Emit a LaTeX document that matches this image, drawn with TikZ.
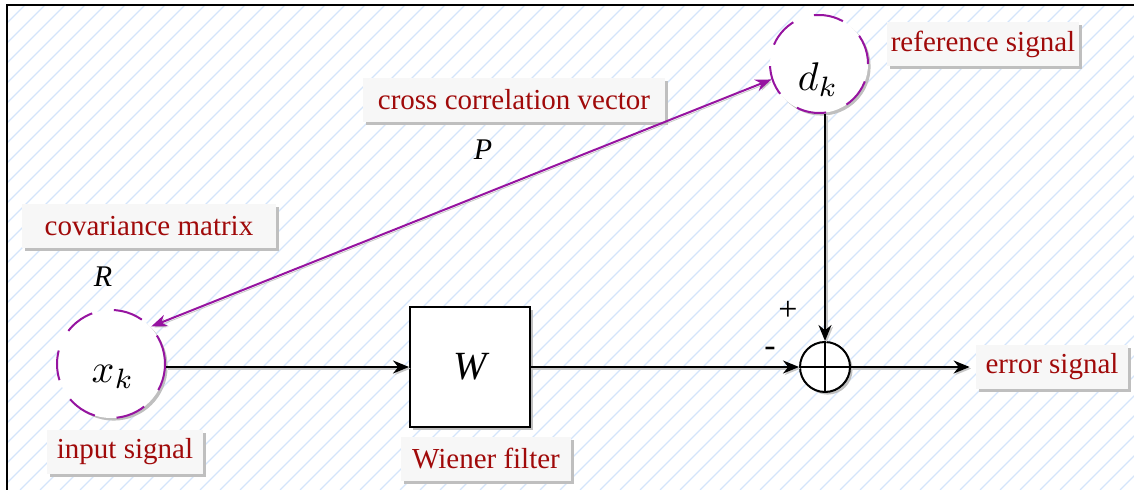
\documentclass[tikz,border=0pt]{standalone}
\usepackage{fontspec}
\setmainfont{Liberation Serif}
\usetikzlibrary{arrows.meta,shapes,positioning,shadows,calc}
\usepackage{xcolor}
\usepackage{amsmath,amssymb}

\definecolor{lblred}{RGB}{160,10,10}
\definecolor{sigpurple}{RGB}{150,20,160}
\definecolor{hatchblue}{RGB}{212,229,250}

\tikzset{
  lbl/.style={fill=black!3, text=lblred, font=\fontsize{14.5}{16}\selectfont,
    inner xsep=2pt, minimum height=22pt,
    drop shadow={shadow xshift=1.6pt, shadow yshift=-1.6pt, fill=black!25, opacity=1}},
  sig/.style={circle, fill=white, draw=sigpurple, line width=1pt,
    dash pattern=on 15pt off 11pt, inner sep=0pt,
    drop shadow={shadow xshift=1.3pt, shadow yshift=-1.3pt, fill=black!25, opacity=1}},
  blk/.style={draw, fill=white, line width=1pt, minimum size=60pt,
    drop shadow={shadow xshift=1.3pt, shadow yshift=-1.3pt, fill=black!25, opacity=1}},
  wire/.style={line width=1pt, -{Stealth[length=8pt,width=6.5pt]},
    preaction={draw=black!22, line width=1pt, transform canvas={xshift=0.8pt, yshift=-0.8pt}}},
  sgn/.style={font=\fontsize{17}{18}\selectfont},
}

\begin{document}
\begin{tikzpicture}[x=0.5pt, y=-0.5pt, >=Stealth]
  \useasboundingbox (0,0) rectangle (1134,490);

  %% Hatched background and frame
  \begin{scope}
    \clip (7,5) rectangle (1134,490);
    \foreach \i in {-500,-480,...,1140}{
      \draw[hatchblue, line width=0.6pt] (\i,490) -- ++(490,-490);
    }
  \end{scope}
  \draw[line width=1pt] (7,490) -- (7,5) -- (1134,5);

  %% Signals and blocks
  \node[sig, minimum size=54pt] (xk) at (111,364) {};
  \node[scale=2] (xkt) at (113,377) {$x_k$};
  \node[sig, minimum size=49pt] (dk) at (819,64) {};
  \node[scale=2] (dkt) at (818,80) {$d_k$};
  \node[blk] (W) at (470,367) {\fontsize{20}{22}\selectfont\itshape W};
  \node[circle, draw, fill=white, line width=1pt, minimum size=25pt,
    drop shadow={shadow xshift=1.3pt, shadow yshift=-1.3pt, fill=black!25, opacity=1}]
    (sum) at (825,367) {};
  \draw[line width=1pt] (sum.north) -- (sum.south) (sum.west) -- (sum.east);

  %% Labels
  \node[lbl, minimum width=95pt]  (reflbl)   at (983,44)  {reference signal};
  \node[lbl, minimum width=151pt] (crosslbl) at (514,100) {cross correlation vector};
  \node[lbl, minimum width=127pt] (covlbl)   at (149,226) {covariance matrix};
  \node[lbl, minimum width=78pt]  (inlbl)    at (125,452) {input signal};
  \node[lbl, minimum width=85pt]  (wlbl)     at (486,459) {Wiener filter};
  \node[lbl, minimum width=76pt]  (errlbl)   at (1052,367) {error signal};

  \node[font=\fontsize{15}{16}\selectfont\itshape] (P) at (483,150) {P};
  \node[font=\fontsize{15}{16}\selectfont\itshape] (R) at (103,277) {R};
  \node[sgn] (plus)  at (788,311) {+};
  \node[sgn] (minus) at (770,352) {-};

  %% Connections
  \draw[wire] (xk.east |- W) -- (W);
  \draw[wire] (W) -- (sum);
  \draw[wire] (dk.south -| sum.north) -- (sum.north);
  \draw[wire, shorten >=3pt] (sum) -- (errlbl);
  \draw[sigpurple, line width=1pt, {Stealth[length=8pt,width=6pt]}-{Stealth[length=8pt,width=6pt]},
    preaction={draw=black!22, transform canvas={xshift=0.8pt, yshift=-0.8pt}}]
    (xk.43) -- (dk.198);
\end{tikzpicture}
\end{document}
